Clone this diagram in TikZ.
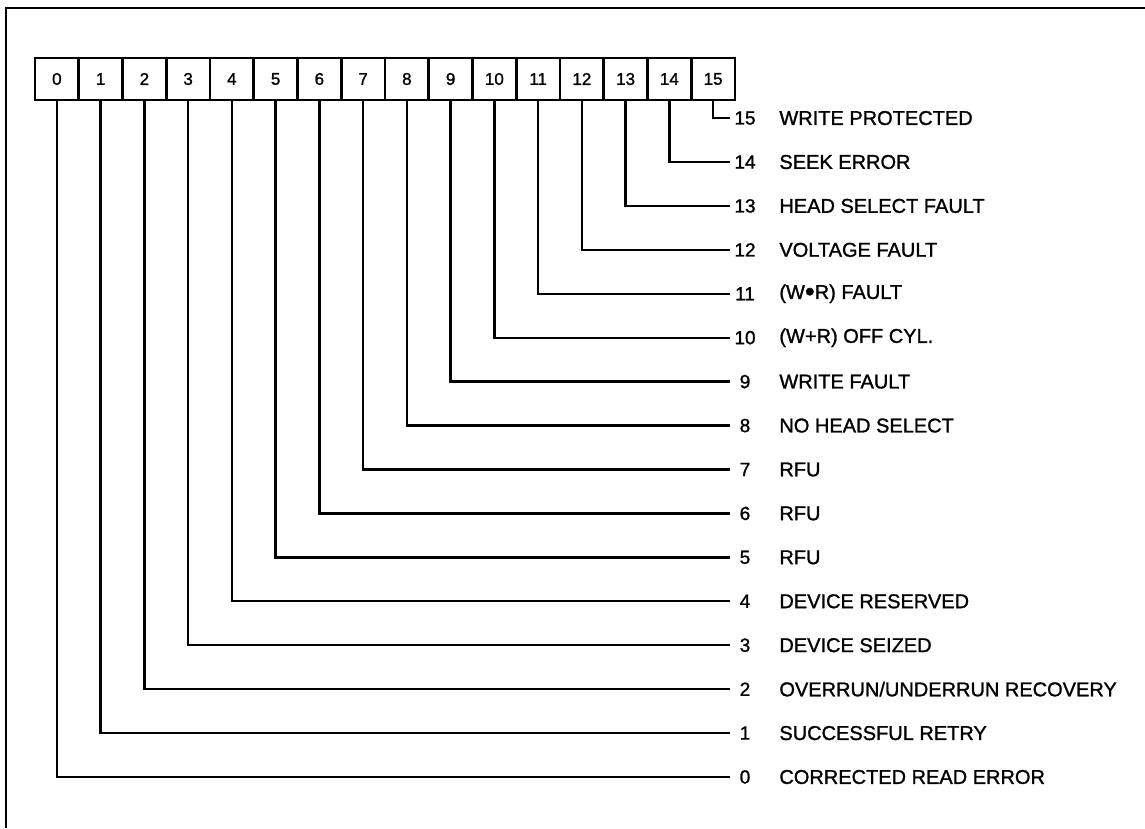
\documentclass[tikz,border=0pt]{standalone}
\usepackage{fontspec}
\setmainfont{Liberation Sans}
\newfontfamily\scanfont[FakeBold=1.2]{Liberation Sans}
\usepackage{tikz}
\usetikzlibrary{positioning}
\newcommand{\wrdot}{\raisebox{-2pt}{\scalebox{1.4}{\textbullet}}}
\tikzset{
    bitcell/.style={
        rectangle,
        draw=black,
        line width=2.6pt,
        minimum width=43.75pt,
        minimum height=42pt,
        inner sep=0pt,
        font=\scanfont\fontsize{17}{20}\selectfont
    },
    bitnum/.style={
        inner sep=0pt,
        minimum width=30pt,
        font=\scanfont\fontsize{19}{22}\selectfont
    },
    bitdesc/.style={
        inner sep=0pt,
        anchor=west,
        font=\scanfont\fontsize{20}{24}\selectfont
    },
    bitline/.style={
        line width=2.4pt
    },
    frame/.style={
        line width=2.2pt
    }
}

\begin{document}
\begin{tikzpicture}[x=1pt, y=-1pt]
    \useasboundingbox (0,0) rectangle (1145,828);
    \draw[frame] (1145,8) -- (6,8) -- (6,828);
    % register cells
    \foreach \i in {0,...,15} {
        \node[bitcell] (b\i) at ({35+43.75*(\i+0.5)},79) {\i};
    }
    % bit legends
    \foreach \i/\txt in {0/CORRECTED READ ERROR, 1/SUCCESSFUL RETRY, 2/{OVERRUN/UNDERRUN RECOVERY},
                         3/DEVICE SEIZED, 4/DEVICE RESERVED, 5/RFU, 6/RFU, 7/RFU,
                         8/NO HEAD SELECT, 9/WRITE FAULT, 10/(W+R) OFF CYL., 11/(W\wrdot R) FAULT,
                         12/VOLTAGE FAULT, 13/HEAD SELECT FAULT, 14/SEEK ERROR, 15/WRITE PROTECTED} {
        \node[bitnum] (n\i) at (745,{777-43.93*\i}) {\i};
        \node[bitdesc, right=19pt of n\i] (d\i) {\txt};
        \draw[bitline] (b\i.south) |- (n\i.west);
    }
\end{tikzpicture}
\end{document}
